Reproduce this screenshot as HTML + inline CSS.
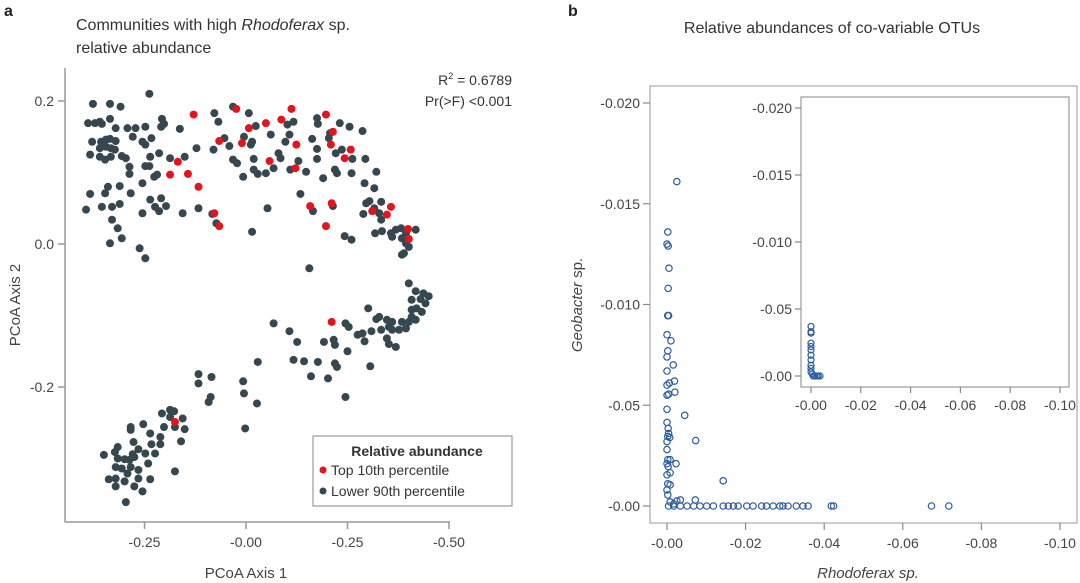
<!DOCTYPE html>
<html><head><meta charset="utf-8"><style>
html,body{margin:0;padding:0;background:#fff;}
svg{display:block;font-family:"Liberation Sans","DejaVu Sans",sans-serif;}
</style></head><body>
<svg id="chart" width="1080" height="583" viewBox="0 0 1080 583" xmlns="http://www.w3.org/2000/svg">
<g id="pa">
<text x="4" y="16" font-size="16" font-weight="bold" fill="#222">a</text>
<text x="76" y="30" font-size="16" fill="#333">Communities with high <tspan font-style="italic">Rhodoferax</tspan> sp.</text>
<text x="76" y="53" font-size="16" fill="#333">relative abundance</text>
<text x="512" y="85" font-size="14" fill="#333" text-anchor="end">R<tspan font-size="9" dy="-6">2</tspan><tspan dy="6"> = 0.6789</tspan></text>
<text x="512" y="106" font-size="14" fill="#333" text-anchor="end">Pr(&gt;F) &lt;0.001</text>
<text x="246" y="578" font-size="15" fill="#444" text-anchor="middle">PCoA Axis 1</text>
<text transform="translate(20,305) rotate(-90)" font-size="15" fill="#444" text-anchor="middle">PCoA Axis 2</text>
</g>
<g id="pb">
<text x="568" y="16" font-size="16" font-weight="bold" fill="#222">b</text>
<text x="832" y="33" font-size="16" fill="#333" text-anchor="middle">Relative abundances of co-variable OTUs</text>
<text x="868" y="578" font-size="15" fill="#444" font-style="italic" text-anchor="middle">Rhodoferax sp.</text>
<text transform="translate(582,305) rotate(-90)" font-size="15" fill="#444" text-anchor="middle"><tspan font-style="italic">Geobacter</tspan> sp.</text>
</g>
</svg>
<script>
// ---------- Panel a data ----------
const darkX=[-0.377,-0.335,-0.309,-0.238,-0.389,-0.372,-0.360,-0.355,-0.335,-0.321,-0.292,-0.272,-0.248,-0.207,-0.209,-0.202,-0.163,-0.379,-0.357,-0.345,-0.335,-0.321,-0.360,-0.345,-0.333,-0.323,-0.384,-0.360,-0.347,-0.333,-0.306,-0.296,-0.279,-0.255,-0.248,-0.233,-0.236,-0.214,-0.248,-0.238,-0.187,-0.151,-0.122,-0.080,-0.078,-0.068,-0.032,0.007,0.024,0.061,-0.053,-0.041,-0.005,0.015,0.012,0.102,0.117,0.107,0.097,0.080,0.085,0.129,0.175,0.177,0.207,0.231,0.255,0.287,0.163,0.175,0.204,0.221,0.236,0.175,0.262,0.294,-0.032,-0.022,0.019,-0.007,0.019,0.029,0.049,0.068,0.109,0.148,0.190,0.219,0.224,0.260,0.321,0.292,0.316,-0.384,-0.394,-0.355,-0.347,-0.340,-0.330,-0.311,-0.311,-0.287,-0.284,-0.330,-0.316,-0.306,-0.335,-0.255,-0.236,-0.209,-0.224,-0.214,-0.197,-0.226,-0.219,-0.255,-0.287,-0.262,-0.248,-0.156,-0.117,-0.083,-0.073,0.015,0.053,0.134,0.165,0.214,0.243,0.260,0.289,0.296,0.304,0.316,0.333,0.328,0.333,0.318,0.335,0.357,0.369,0.382,0.394,0.418,0.384,0.394,0.389,0.401,0.360,
0.384,0.156,0.401,0.418,0.437,0.450,0.408,0.430,0.442,0.408,0.420,0.433,0.408,0.418,0.401,0.384,0.360,0.347,0.328,0.321,0.301,0.394,0.377,0.360,0.352,0.333,0.309,0.287,0.275,0.292,0.347,0.352,0.369,0.306,0.245,0.253,0.250,0.216,0.219,0.192,0.219,0.224,0.202,0.177,0.143,0.117,0.160,0.126,0.107,0.068,0.029,-0.007,-0.005,0.027,-0.002,0.245,-0.117,-0.117,-0.085,-0.087,-0.092,-0.207,-0.187,-0.177,-0.156,-0.187,-0.202,-0.175,-0.151,-0.253,-0.284,-0.284,-0.236,-0.211,-0.160,-0.277,-0.233,-0.211,-0.265,-0.248,-0.224,-0.316,-0.323,-0.350,-0.279,-0.316,-0.299,-0.287,-0.275,-0.241,-0.321,-0.306,-0.284,-0.265,-0.292,-0.175,-0.338,-0.321,-0.299,-0.265,-0.236,-0.321,-0.275,-0.255,-0.296];
const darkY=[0.196,0.196,0.192,0.210,0.169,0.169,0.171,0.168,0.175,0.162,0.162,0.162,0.164,0.175,0.164,0.168,0.161,0.143,0.143,0.146,0.147,0.144,0.134,0.136,0.134,0.132,0.125,0.122,0.118,0.122,0.123,0.120,0.150,0.143,0.139,0.148,0.122,0.127,0.109,0.109,0.120,0.122,0.134,0.132,0.183,0.171,0.192,0.183,0.165,0.153,0.148,0.137,0.150,0.143,0.139,0.167,0.171,0.153,0.143,0.127,0.120,0.116,0.176,0.168,0.155,0.169,0.164,0.158,0.147,0.133,0.148,0.127,0.132,0.119,0.119,0.119,0.118,0.113,0.119,0.094,0.104,0.098,0.099,0.106,0.104,0.101,0.092,0.104,0.099,0.099,0.101,0.085,0.078,0.070,0.048,0.052,0.071,0.080,0.052,0.056,0.081,0.098,0.071,0.034,0.022,0.008,0.001,0.043,0.062,0.064,0.052,0.046,0.053,0.094,0.097,0.085,0.108,-0.006,-0.020,0.043,0.050,0.042,0.029,0.017,0.050,0.070,0.046,0.053,0.011,0.006,0.042,0.057,0.060,0.050,0.059,0.043,0.034,0.015,0.018,0.015,0.020,0.022,0.015,0.020,0.008,0.001,-0.013,-0.004,0.010,
-0.015,-0.034,-0.055,-0.066,-0.069,-0.073,-0.078,-0.077,-0.083,-0.092,-0.090,-0.095,-0.102,-0.106,-0.109,-0.109,-0.109,-0.106,-0.102,-0.105,-0.090,-0.118,-0.120,-0.120,-0.116,-0.120,-0.122,-0.125,-0.127,-0.136,-0.132,-0.140,-0.144,-0.171,-0.111,-0.116,-0.150,-0.134,-0.141,-0.137,-0.167,-0.172,-0.188,-0.165,-0.164,-0.162,-0.185,-0.137,-0.122,-0.111,-0.165,-0.192,-0.209,-0.223,-0.258,-0.214,-0.182,-0.195,-0.186,-0.214,-0.221,-0.237,-0.232,-0.234,-0.244,-0.242,-0.256,-0.256,-0.259,-0.252,-0.256,-0.260,-0.265,-0.270,-0.276,-0.277,-0.280,-0.280,-0.287,-0.293,-0.293,-0.284,-0.291,-0.295,-0.294,-0.300,-0.301,-0.302,-0.298,-0.307,-0.312,-0.314,-0.312,-0.316,-0.321,-0.318,-0.329,-0.328,-0.332,-0.328,-0.329,-0.339,-0.339,-0.346,-0.361];
const redX=[-0.129,-0.024,0.007,-0.066,-0.010,0.049,0.087,0.112,0.124,0.058,0.122,0.197,0.214,0.209,0.258,0.243,-0.168,-0.187,-0.143,-0.117,-0.078,-0.066,0.158,0.211,0.197,0.311,0.357,0.347,0.399,0.401,0.211,-0.175];
const redY=[0.181,0.189,0.162,0.144,0.141,0.169,0.174,0.189,0.139,0.116,0.106,0.181,0.157,0.139,0.132,0.120,0.115,0.097,0.098,0.080,0.043,0.025,0.053,0.057,0.025,0.046,0.052,0.041,0.021,0.007,-0.109,-0.249];
const aXTicks=[-0.25,0,0.25,0.5];
const aXTickLabels=["-0.25","-0.00","-0.25","-0.50"];
const aYTicks=[0.2,0,-0.2];
const aYTickLabels=["0.2","0.0","-0.2"];
// ---------- Panel b data (values in thousandths) ----------
const bX=[2.5,0.2,0,0.3,0.5,0.3,0.2,0.4,0,1.0,0.2,0,1.6,0,1.9,0.6,0,2.0,0.4,0,0,4.5,0,0.3,0.4,0.2,0.7,0,7.3,0,0.2,0.8,2.3,0,0.3,0.8,0,14.3,0.2,0.8,0,0.2,7.2,0.8,2.5,3.4,1.7,0.4,1.7,3.4,5.1,6.8,8.4,10.1,11.8,14.3,15.6,16.9,18.1,20.3,21.9,24.1,25.3,27.0,28.7,29.5,30.8,32.9,34.6,35.9,41.8,42.4,67.3,71.7];
const bY=[16.1,13.6,13.0,12.9,11.8,10.8,9.45,9.45,8.5,8.2,7.7,7.4,7.0,6.7,6.2,6.1,6.0,5.65,5.55,5.5,4.8,4.5,4.15,3.85,3.6,3.45,3.4,3.2,3.25,2.8,2.3,2.3,2.1,2.1,1.95,1.65,1.55,1.25,1.1,1.05,0.8,0.55,0.3,0.2,0.25,0.3,0.1,0,0,0,0,0,0,0,0,0,0,0,0,0,0,0,0,0,0,0,0,0,0,0,0,0,0,0];
const insetX=[0,0,0,0,0,0,0,0,0,0,0,0.5,0.9,1.6,2.3,2.9,3.6];
const insetY=[3.7,3.3,3.2,2.45,2.2,1.95,1.55,1.2,0.8,0.57,0.3,0.15,0,0,0,0,0];
const bXTicks=[0,20,40,60,80,100];
const bXTickLabels=["-0.00","-0.02","-0.04","-0.06","-0.08","-0.10"];
const bYTicks=[0,5,10,15,20];
const bYTickLabels=["-0.00","-0.05","-0.010","-0.015","-0.020"];

const NS="http://www.w3.org/2000/svg";
function mk(tag,attrs,parent){const e=document.createElementNS(NS,tag);for(const k in attrs)e.setAttribute(k,attrs[k]);parent.appendChild(e);return e;}

// Panel a scales
const ax=v=>246+v*406;
const ay=v=>244-v*715;
const pa=document.getElementById('pa');
const axisA=mk('path',{d:'M65 68 V522 H450',fill:'none',stroke:'#999','stroke-width':1.5},pa);


aXTicks.forEach((t,i)=>{
  const l=mk('line',{x1:ax(t),x2:ax(t),y1:522,y2:529,stroke:'#999','stroke-width':1.5},pa);
  
  
  const tx=mk('text',{x:ax(t),y:547,'font-size':14,fill:'#444','text-anchor':'middle'},pa);
  tx.textContent=aXTickLabels[i];
  
  
});
aYTicks.forEach((t,i)=>{
  const l=mk('line',{x1:58,x2:65,y1:ay(t),y2:ay(t),stroke:'#999','stroke-width':1.5},pa);
  
  
  const tx=mk('text',{x:54,y:ay(t)+5,'font-size':14,fill:'#444','text-anchor':'end'},pa);
  tx.textContent=aYTickLabels[i];
  
  
});
darkX.forEach((x,i)=>{
  const c=mk('circle',{cx:ax(x),cy:ay(darkY[i]),r:4,fill:'#37474f'},pa);
  
  
});
redX.forEach((x,i)=>{
  const c=mk('circle',{cx:ax(x),cy:ay(redY[i]),r:4,fill:'#e3141b'},pa);
  
  
});
// legend
const lg=mk('g',{},pa);


mk('rect',{x:313,y:436,width:199,height:70,fill:'#fff',stroke:'#999','stroke-width':1.2},lg);
const lt=mk('text',{x:417,y:456,'font-size':14,'font-weight':'bold',fill:'#333','text-anchor':'middle'},lg);
lt.textContent='Relative abundance';


const le1=mk('g',{},lg);


mk('circle',{cx:323,cy:470,r:3.5,fill:'#e3141b'},le1);
mk('text',{x:331,y:475,'font-size':14,fill:'#333'},le1).textContent='Top 10th percentile';
const le2=mk('g',{},lg);


mk('circle',{cx:323,cy:491,r:3.5,fill:'#37474f'},le2);
mk('text',{x:331,y:496,'font-size':14,fill:'#333'},le2).textContent='Lower 90th percentile';

// Panel b
const pb=document.getElementById('pb');
const bx=v=>667+v*3.93;
const by=v=>506-v*20.15;
const frameB=mk('rect',{x:650,y:86,width:427,height:437,fill:'none',stroke:'#aaa','stroke-width':1.2},pb);


bXTicks.forEach((t,i)=>{
  const l=mk('line',{x1:bx(t),x2:bx(t),y1:523,y2:530,stroke:'#888','stroke-width':1.2},pb);
  
  
  const tx=mk('text',{x:bx(t),y:548,'font-size':14,fill:'#444','text-anchor':'middle'},pb);
  tx.textContent=bXTickLabels[i];
  
  
});
bYTicks.forEach((t,i)=>{
  const l=mk('line',{x1:643,x2:650,y1:by(t),y2:by(t),stroke:'#888','stroke-width':1.2},pb);
  
  
  const tx=mk('text',{x:640,y:by(t)+5,'font-size':14,fill:'#444','text-anchor':'end'},pb);
  tx.textContent=bYTickLabels[i];
  
  
});
bX.forEach((x,i)=>{
  const c=mk('circle',{cx:bx(x),cy:by(bY[i]),r:3.2,fill:'none',stroke:'#2b5c9e','stroke-width':1.2},pb);
  
  
});
// inset
const ix=v=>811+v*2.49;
const iy=v=>376-v*13.4;
const ins=mk('g',{},pb);


mk('rect',{x:801,y:97,width:268,height:290,fill:'#fff',stroke:'#999','stroke-width':1.2},ins);
bXTicks.forEach((t,i)=>{
  const l=mk('line',{x1:ix(t),x2:ix(t),y1:387,y2:393,stroke:'#888','stroke-width':1.2},ins);
  
  
  const tx=mk('text',{x:ix(t),y:410,'font-size':14,fill:'#444','text-anchor':'middle'},ins);
  tx.textContent=bXTickLabels[i];
  
  
});
bYTicks.forEach((t,i)=>{
  const l=mk('line',{x1:795,x2:801,y1:iy(t),y2:iy(t),stroke:'#888','stroke-width':1.2},ins);
  
  
  const tx=mk('text',{x:792,y:iy(t)+5,'font-size':14,fill:'#444','text-anchor':'end'},ins);
  tx.textContent=bYTickLabels[i];
  
  
});
insetX.forEach((x,i)=>{
  const c=mk('circle',{cx:ix(x),cy:iy(insetY[i]),r:3,fill:'none',stroke:'#2b5c9e','stroke-width':1.2},ins);
  
  
});
</script>
</body></html>
